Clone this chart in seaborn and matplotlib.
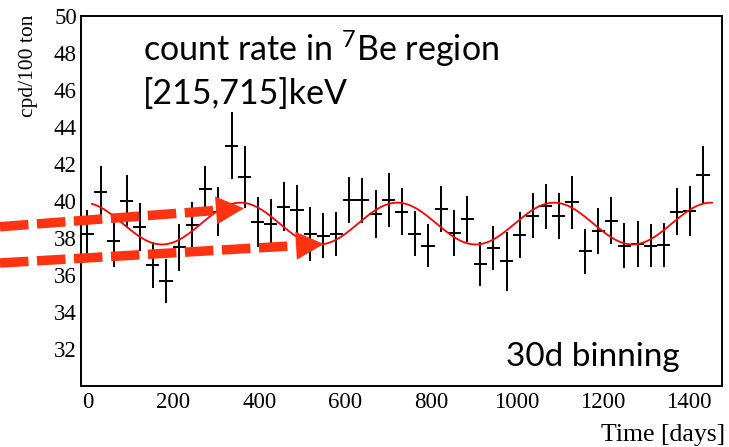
import numpy as np
import pandas as pd
import matplotlib
matplotlib.use("Agg")
import matplotlib.pyplot as plt
import seaborn as sns
from matplotlib.lines import Line2D
from matplotlib.patches import Polygon
from matplotlib.transforms import IdentityTransform
from matplotlib.ticker import MultipleLocator

# ---------------- data ----------------
time_days = [0, 30.5, 61, 91.5, 122, 152.5, 183, 213.5, 244, 274.5, 305, 335.5,
             366, 396.5, 427, 457.5, 488, 518.5, 549, 579.5, 610, 640.5, 671, 701.5,
             732, 762.5, 793, 823.5, 854, 884.5, 915, 945.5, 976, 1006.5, 1037, 1067.5,
             1098, 1128.5, 1159, 1189.5, 1220, 1250.5, 1281, 1311.5, 1342, 1372.5, 1403, 1433.5]
rate = [38.2, 40.47, 37.85, 40.02, 38.6, 36.54, 35.69, 37.49, 38.70, 40.65, 39.42, 42.99,
        41.31, 38.88, 38.76, 39.69, 39.53, 38.22, 38.13, 38.22, 40.07, 40.05, 39.30, 40.07,
        39.42, 38.24, 37.59, 39.57, 38.27, 39.03, 36.59, 37.46, 36.74, 38.18, 39.21, 39.71,
        39.17, 39.93, 37.28, 38.36, 38.94, 37.59, 37.68, 37.59, 37.62, 39.42, 39.48, 41.41]
rate_err = [1.30, 1.40, 1.44, 1.40, 1.31, 1.26, 1.20, 1.26, 1.26, 1.26, 1.31, 1.80,
            1.67, 1.35, 1.35, 1.32, 1.35, 1.46, 1.20, 1.20, 1.25, 1.22, 1.29, 1.45,
            1.28, 1.23, 1.18, 1.23, 1.22, 1.22, 1.17, 1.19, 1.58, 1.25, 1.21, 1.21,
            1.24, 1.42, 1.22, 1.24, 1.28, 1.22, 1.26, 1.17, 1.17, 1.28, 1.35, 1.54]
half_bin = 15.25

# sinusoidal fit parameters
fit_mean = 38.78
fit_amp = 1.13
fit_period = 365.25
fit_tmax = -9.0
fit_start, fit_end = 10, 1455

x_ticks = [0, 200, 400, 600, 800, 1000, 1200, 1400]
y_ticks = [32, 34, 36, 38, 40, 42, 44, 46, 48, 50]

# ---------------- style ----------------
sns.set_theme(style="white")
plt.rcParams.update({
    "font.family": ["Liberation Serif", "DejaVu Serif"],
    "mathtext.fontset": "custom",
    "mathtext.rm": "Lato",
    "mathtext.default": "rm",
    "text.color": "black",
    "axes.labelcolor": "black",
    "axes.edgecolor": "black",
    "axes.linewidth": 1.4,
    "xtick.direction": "in",
    "ytick.direction": "in",
    "xtick.color": "black",
    "ytick.color": "black",
})

W, H = 729, 447
fig = plt.figure(figsize=(W / 100, H / 100), dpi=100)
fig.patch.set_facecolor("white")
ax = fig.add_axes([81 / W, 1 - 386 / H, (721.7 - 81) / W, (386 - 16) / H])
ax.set_facecolor("white")

# data with error bars
ax.errorbar(time_days, rate, xerr=half_bin, yerr=rate_err, fmt="none",
            ecolor="black", elinewidth=1.4, capsize=0, zorder=3)

# fit curve
t_fit = np.linspace(fit_start, fit_end, 800)
df_fit = pd.DataFrame({"t": t_fit,
                       "r": fit_mean + fit_amp * np.cos(2 * np.pi * (t_fit - fit_tmax) / fit_period)})
sns.lineplot(data=df_fit, x="t", y="r", color="#ff0000", lw=1.3, ax=ax, zorder=4)

ax.set_xlim(-15, 1477)
ax.set_ylim(30, 50)
ax.set_xticks(x_ticks)
ax.set_yticks(y_ticks)
ax.xaxis.set_minor_locator(MultipleLocator(50))
ax.yaxis.set_minor_locator(MultipleLocator(0.5))
ax.tick_params(axis="y", which="major", length=13, width=1.1, labelsize=16.5, pad=3)
ax.tick_params(axis="y", which="minor", length=6.5, width=1.1)
ax.tick_params(axis="x", which="major", length=8, width=1.1, labelsize=16.5, pad=4)
ax.tick_params(axis="x", which="minor", length=4, width=1.1)
ax.tick_params(top=False, right=False, which="both")
ax.set_xlabel("")
ax.set_ylabel("")
for s in ax.spines.values():
    s.set_visible(True)
    s.set_color("black")
    s.set_linewidth(1.4)

# axis titles (ROOT style)
fig.text(29 / W, 1 - 15 / H, "cpd/100 ton", rotation=90, ha="center", va="top",
         fontsize=15.5, family=["Liberation Serif"])
fig.text(725 / W, 1 - 441 / H, "Time [days]", ha="right", va="baseline",
         fontsize=18.5, family=["Liberation Serif"])

# annotations
sans = ["Lato", "DejaVu Sans"]
fig.text(143 / W, 1 - 61 / H, "count rate in $^{7}$Be region", ha="left", va="baseline",
         fontsize=24.5, family=sans)
fig.text(143 / W, 1 - 104 / H, "[215,715]keV", ha="left", va="baseline",
         fontsize=24.5, family=sans)
fig.text(506 / W, 1 - 366 / H, "30d binning", ha="left", va="baseline",
         fontsize=24, family=sans)

# dashed arrows (figure pixel coordinates, origin top-left converted)
arrow_color = "#ff3311"

def dashed_arrow(p0, tip, lw_px=9.5, head_len=28, head_half=14):
    p0 = np.array([p0[0], H - p0[1]], float)
    tip = np.array([tip[0], H - tip[1]], float)
    d = tip - p0
    u = d / np.hypot(*d)
    perp = np.array([-u[1], u[0]])
    base = tip - head_len * u
    line = Line2D([p0[0], base[0]], [p0[1], base[1]], transform=IdentityTransform(),
                  color=arrow_color, lw=lw_px * 0.72, linestyle=(0, (3.0, 0.9)),
                  dash_capstyle="butt", solid_capstyle="butt", zorder=10)
    fig.add_artist(line)
    head = Polygon([tip, base + head_half * perp, base - head_half * perp], closed=True,
                   transform=IdentityTransform(), facecolor=arrow_color,
                   edgecolor="none", zorder=10)
    fig.add_artist(head)

dashed_arrow((0, 226.7), (244, 208.3))
dashed_arrow((0, 263.0), (324, 244.0))

fig.savefig("out.png", dpi=100)
